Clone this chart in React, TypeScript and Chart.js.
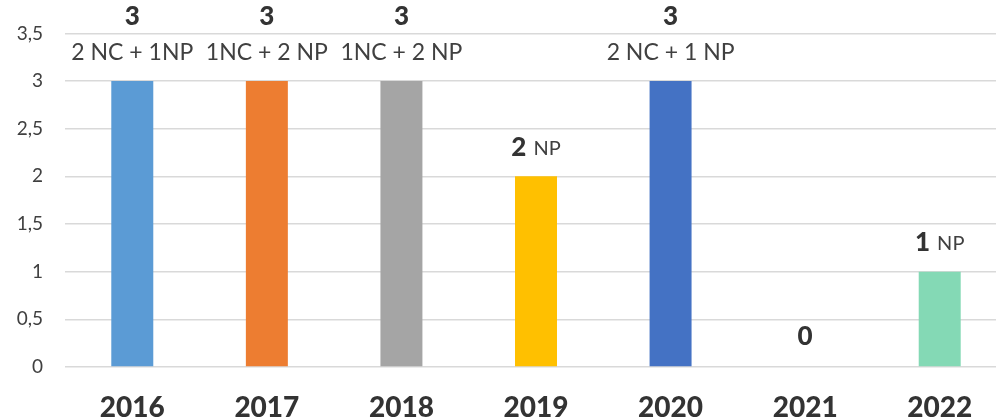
import React, { useEffect, useRef } from "react";
import { Chart, registerables } from "chart.js";

Chart.register(...registerables);

const years = ["2016", "2017", "2018", "2019", "2020", "2021", "2022"];
const counts = [3, 3, 3, 2, 3, 0, 1];
const detailLabels = ["2 NC + 1NP", "1NC + 2 NP", "1NC + 2 NP", "", "2 NC + 1 NP", "", ""];
const inlineSuffix = ["", "", "", "NP", "", "", "NP"];
const barColors = ["#5b9bd5", "#ed7d31", "#a5a5a5", "#ffc000", "#4472c4", "#70ad47", "#84d9b5"];
const yTickLabels = ["0", "0,5", "1", "1,5", "2", "2,5", "3", "3,5"];

const FONT = "Lato, 'Open Sans', sans-serif";

const labelPlugin = {
  id: "barLabels",
  afterDatasetsDraw(chart: any) {
    const ctx = chart.ctx;
    const meta = chart.getDatasetMeta(0);
    ctx.save();
    ctx.textBaseline = "middle";
    meta.data.forEach((el: any, i: number) => {
      const x = el.x;
      const top = el.y;
      const val = String(counts[i]);
      const detail = detailLabels[i];
      const suffix = inlineSuffix[i];
      if (detail) {
        ctx.font = `900 26px ${FONT}`;
        ctx.fillStyle = "#333333";
        ctx.textAlign = "center";
        ctx.fillText(val, x, top - 64);
        ctx.font = `23px ${FONT}`;
        ctx.fillStyle = "#404040";
        ctx.fillText(detail, x, top - 28);
      } else if (suffix) {
        ctx.font = `900 26px ${FONT}`;
        const w1 = ctx.measureText(val).width;
        ctx.font = `20px ${FONT}`;
        const gap = 7;
        const w2 = ctx.measureText(suffix).width;
        const start = x - (w1 + gap + w2) / 2;
        ctx.textAlign = "left";
        ctx.font = `900 26px ${FONT}`;
        ctx.fillStyle = "#333333";
        ctx.fillText(val, start, top - 29);
        ctx.font = `20px ${FONT}`;
        ctx.fillStyle = "#404040";
        ctx.fillText(suffix, start + w1 + gap, top - 28);
      } else {
        ctx.font = `900 26px ${FONT}`;
        ctx.fillStyle = "#333333";
        ctx.textAlign = "center";
        ctx.fillText(val, x, top - 30);
      }
    });
    ctx.restore();
  },
};

export default function App() {
  const ref = useRef<HTMLCanvasElement | null>(null);
  useEffect(() => {
    if (!ref.current) return;
    const chart = new Chart(ref.current, {
      type: "bar",
      data: {
        labels: years,
        datasets: [
          {
            data: counts,
            backgroundColor: barColors,
            barPercentage: 0.312,
            categoryPercentage: 1,
          },
        ],
      },
      options: {
        responsive: false,
        animation: false,
        layout: { padding: { top: 32, right: 1, left: 0, bottom: 0 } },
        plugins: { legend: { display: false }, tooltip: { enabled: false } },
        scales: {
          x: {
            grid: { display: false },
            border: { display: false },
            ticks: {
              color: "#333333",
              font: { family: FONT, size: 28, weight: "900" },
              padding: 16,
            },
            afterFit(scale: any) {
              scale.height = 53;
            },
          },
          y: {
            min: 0,
            max: 3.5,
            border: { display: false },
            grid: { color: "#d9d9d9", lineWidth: 1.5, drawTicks: false },
            ticks: {
              stepSize: 0.5,
              color: "#404040",
              font: { family: FONT, size: 19 },
              padding: 22,
              callback: (_v: any, idx: number) => yTickLabels[idx],
            },
            afterFit(scale: any) {
              scale.width = 65;
            },
          },
        },
      },
      plugins: [labelPlugin],
    });
    return () => chart.destroy();
  }, []);
  return (
    <div style={{ position: "fixed", left: 0, top: 0, width: 996, height: 420, overflow: "hidden", background: "#fff" }}>
      <canvas ref={ref} width={1008} height={420} style={{ display: "block" }} />
    </div>
  );
}
